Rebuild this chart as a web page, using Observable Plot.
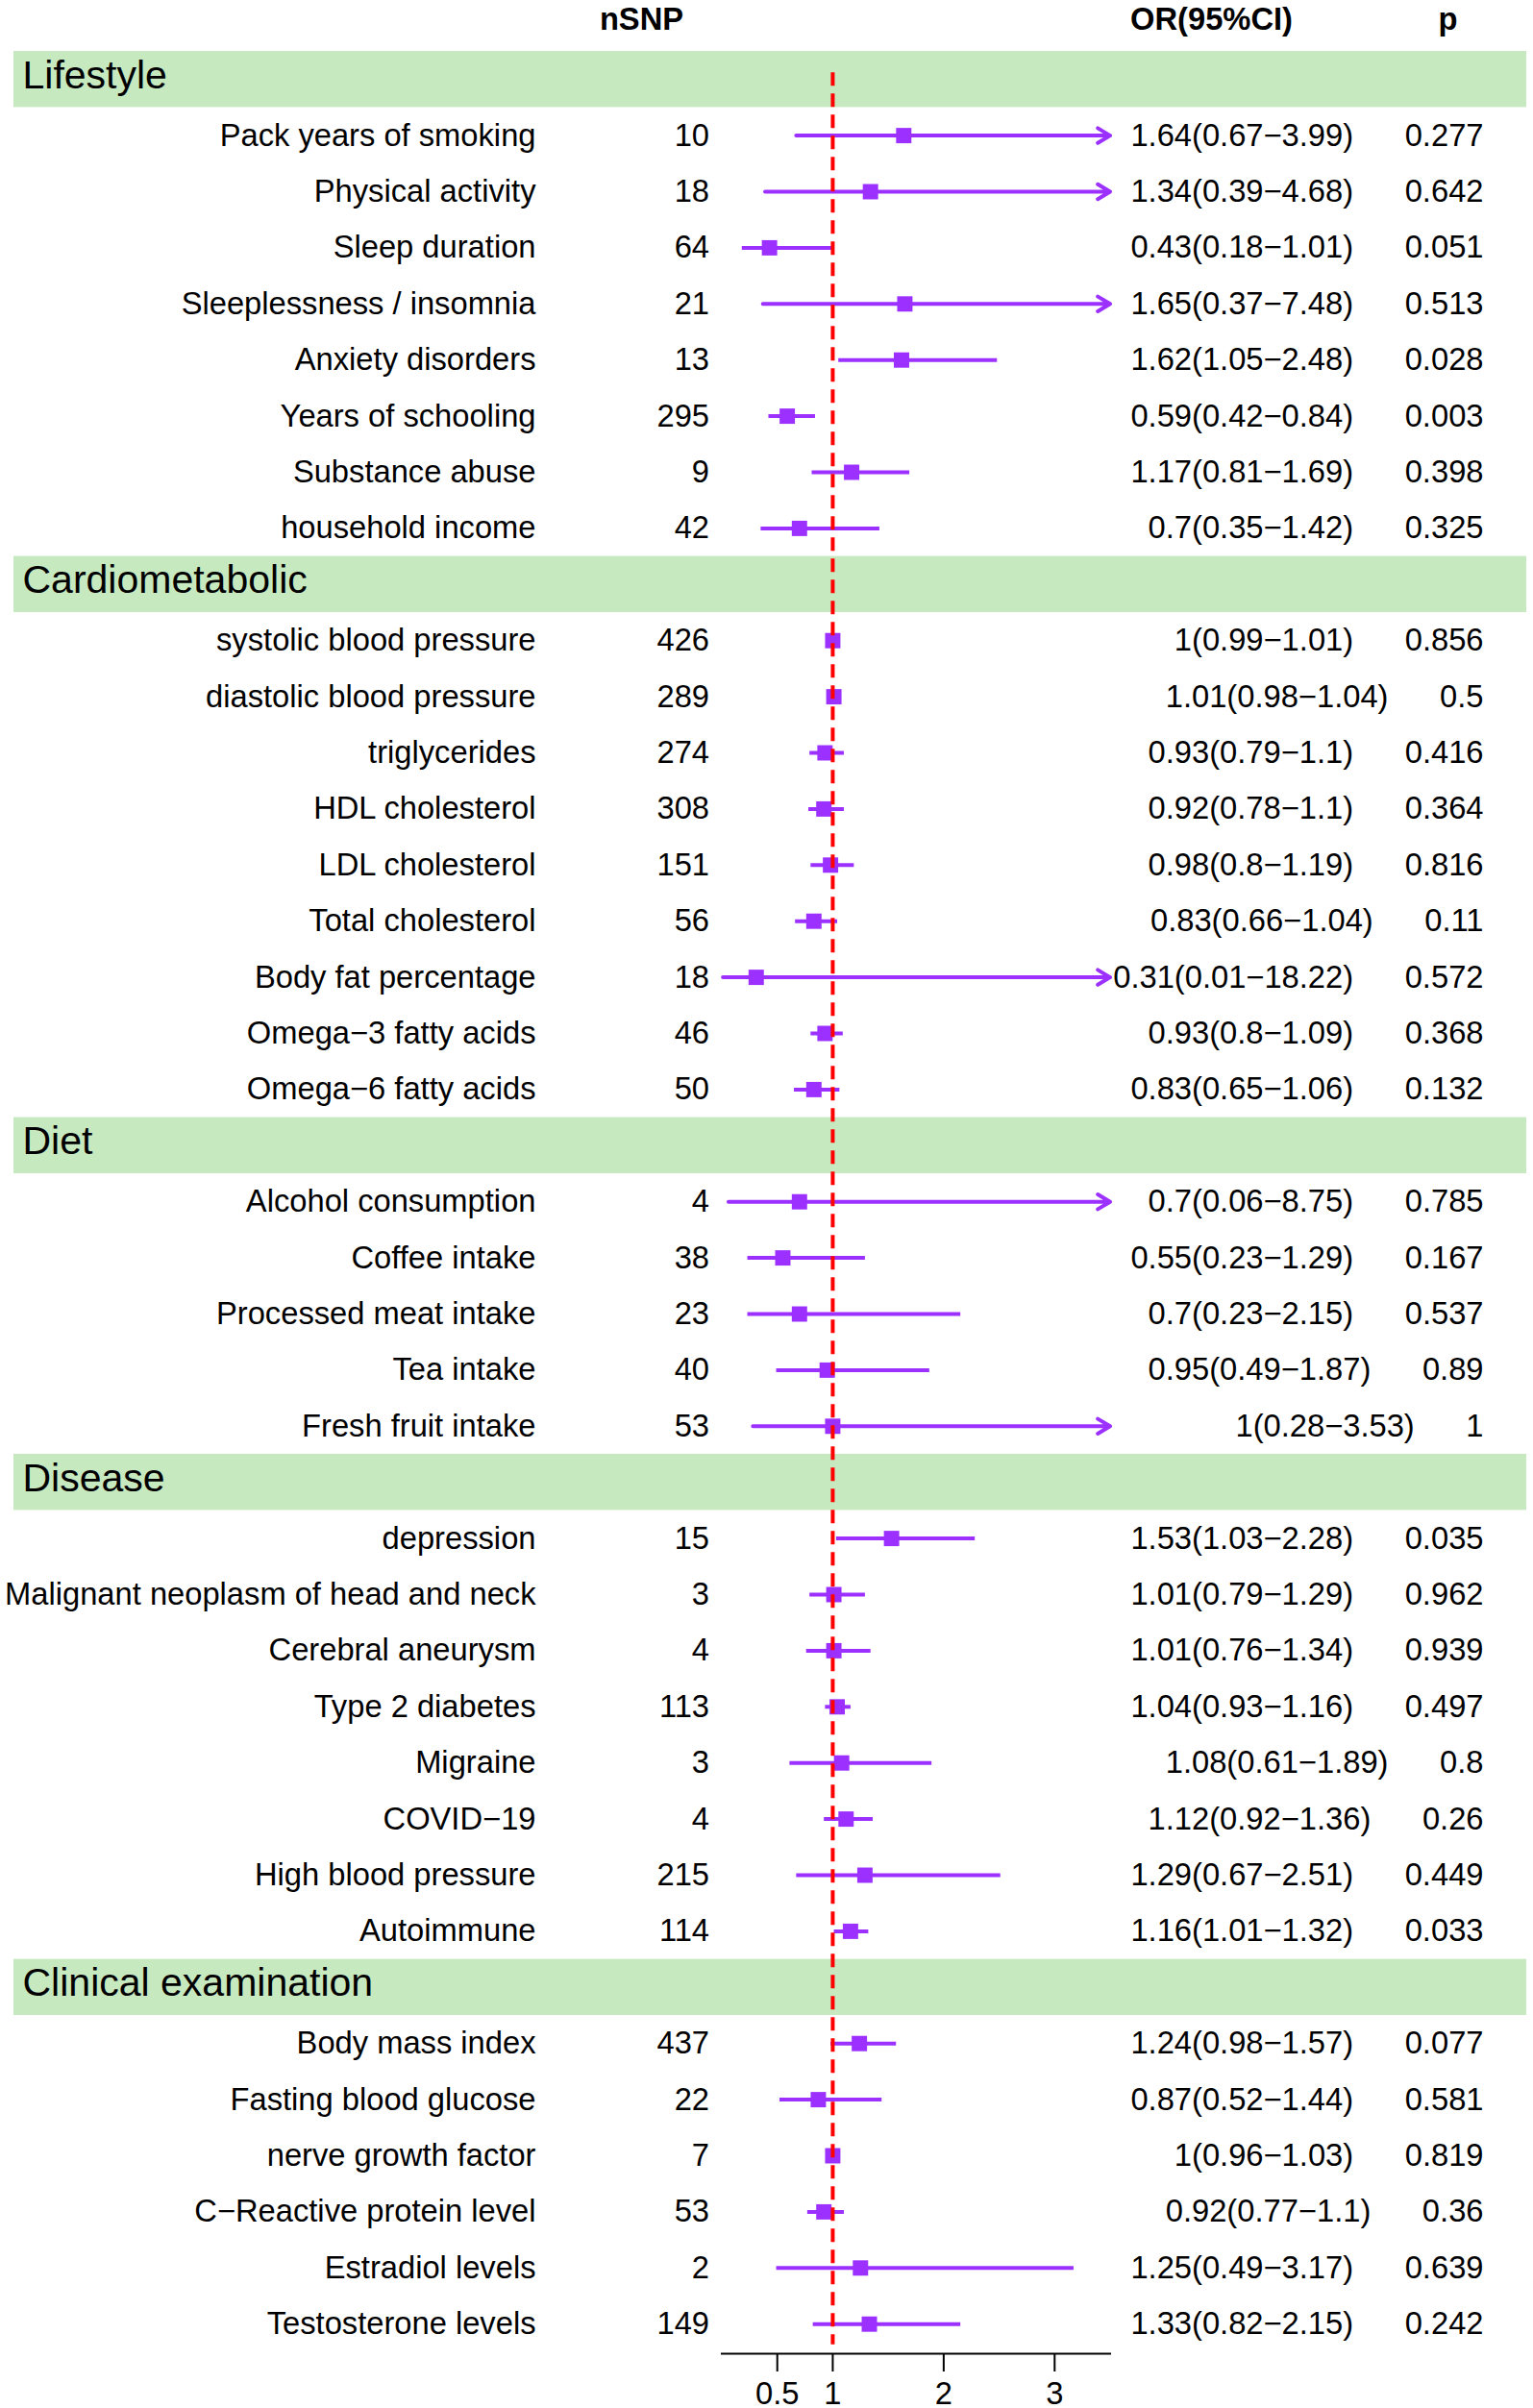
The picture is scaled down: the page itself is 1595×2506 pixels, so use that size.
<!DOCTYPE html>
<html>
<head>
<meta charset="utf-8">
<script src="https://cdn.jsdelivr.net/npm/d3@7"></script>
<script src="https://cdn.jsdelivr.net/npm/@observablehq/plot@0.6"></script>
<style>
  html, body { margin: 0; padding: 0; background: #ffffff; }
  svg { display: block; }
</style>
</head>
<body>
<div id="chart"></div>
<script>
// ---------------- data ----------------
const groups = ["Lifestyle", "Cardiometabolic", "Diet", "Disease", "Clinical examination"];
const groupSizes = [8, 9, 5, 8, 6];

const labels = [
  "Pack years of smoking", "Physical activity", "Sleep duration", "Sleeplessness / insomnia",
  "Anxiety disorders", "Years of schooling", "Substance abuse", "household income",
  "systolic blood pressure", "diastolic blood pressure", "triglycerides", "HDL cholesterol",
  "LDL cholesterol", "Total cholesterol", "Body fat percentage", "Omega\u22123 fatty acids", "Omega\u22126 fatty acids",
  "Alcohol consumption", "Coffee intake", "Processed meat intake", "Tea intake", "Fresh fruit intake",
  "depression", "Malignant neoplasm of head and neck", "Cerebral aneurysm", "Type 2 diabetes",
  "Migraine", "COVID\u221219", "High blood pressure", "Autoimmune",
  "Body mass index", "Fasting blood glucose", "nerve growth factor", "C\u2212Reactive protein level",
  "Estradiol levels", "Testosterone levels"
];
const nsnp = [10, 18, 64, 21, 13, 295, 9, 42,
  426, 289, 274, 308, 151, 56, 18, 46, 50,
  4, 38, 23, 40, 53,
  15, 3, 4, 113, 3, 4, 215, 114,
  437, 22, 7, 53, 2, 149];
const orValues = [1.64, 1.34, 0.43, 1.65, 1.62, 0.59, 1.17, 0.7,
  1, 1.01, 0.93, 0.92, 0.98, 0.83, 0.31, 0.93, 0.83,
  0.7, 0.55, 0.7, 0.95, 1,
  1.53, 1.01, 1.01, 1.04, 1.08, 1.12, 1.29, 1.16,
  1.24, 0.87, 1, 0.92, 1.25, 1.33];
const lower = [0.67, 0.39, 0.18, 0.37, 1.05, 0.42, 0.81, 0.35,
  0.99, 0.98, 0.79, 0.78, 0.8, 0.66, 0.01, 0.8, 0.65,
  0.06, 0.23, 0.23, 0.49, 0.28,
  1.03, 0.79, 0.76, 0.93, 0.61, 0.92, 0.67, 1.01,
  0.98, 0.52, 0.96, 0.77, 0.49, 0.82];
const upper = [3.99, 4.68, 1.01, 7.48, 2.48, 0.84, 1.69, 1.42,
  1.01, 1.04, 1.1, 1.1, 1.19, 1.04, 18.22, 1.09, 1.06,
  8.75, 1.29, 2.15, 1.87, 3.53,
  2.28, 1.29, 1.34, 1.16, 1.89, 1.36, 2.51, 1.32,
  1.57, 1.44, 1.03, 1.1, 3.17, 2.15];
const pValues = [0.277, 0.642, 0.051, 0.513, 0.028, 0.003, 0.398, 0.325,
  0.856, 0.5, 0.416, 0.364, 0.816, 0.11, 0.572, 0.368, 0.132,
  0.785, 0.167, 0.537, 0.89, 1,
  0.035, 0.962, 0.939, 0.497, 0.8, 0.26, 0.449, 0.033,
  0.077, 0.581, 0.819, 0.36, 0.639, 0.242];
const xTicks = [0.5, 1, 2, 3];
const xDomain = [0, 3.5];
const headers = ["nSNP", "OR(95%CI)", "p"];

// ---------------- layout table ----------------
const bands = [];
const rows = [];
let slot = 1, idx = 0;
groups.forEach((g, gi) => {
  bands.push({group: g, slot: slot++});
  for (let k = 0; k < groupSizes[gi]; k++, idx++) {
    rows.push({
      label: labels[idx], nsnp: nsnp[idx], or: orValues[idx],
      lo: lower[idx], hi: upper[idx], p: pValues[idx], slot: slot++
    });
  }
});
const lastSlot = slot - 1;
const xMax = xDomain[1];
const spacer = "\u2002\u2002\u00a0\u00a0\u200a";
const orText = d => `${d.or}(${d.lo}\u2212${d.hi})` + spacer + `${d.p}`;

const purple = "#9b30ff";
const font = "'Liberation Sans', Arial, Helvetica, sans-serif";
const fs = 32.7;

const chart = Plot.plot({
  width: 1595,
  height: 2506,
  marginLeft: 750.5,
  marginRight: 440.5,
  marginTop: 0,
  marginBottom: 57,
  style: {fontFamily: font, background: "#ffffff", color: "#000000", overflow: "visible"},
  x: {domain: xDomain},
  y: {domain: [0, lastSlot], range: [23.8, 2418.2], axis: null},
  marks: [
    // section bands
    Plot.rect(bands, {
      y1: d => d.slot - 0.5, y2: d => d.slot + 0.5,
      fill: "#c7e9c0", insetLeft: -736.5, insetRight: -433.5
    }),
    Plot.text(bands, {
      y: "slot", text: "group", frameAnchor: "left", dx: -727.5, dy: -4,
      textAnchor: "start", fontSize: 41, fill: "#000"
    }),
    // headers
    Plot.text([headers[0]], {y: () => 0, text: d => d, frameAnchor: "left", dx: -83.5, textAnchor: "middle", fontSize: fs, fontWeight: "bold", dy: -4}),
    Plot.text([headers[1]], {y: () => 0, text: d => d, frameAnchor: "right", dx: 105.5, textAnchor: "middle", fontSize: fs, fontWeight: "bold", dy: -4}),
    Plot.text([headers[2]], {y: () => 0, text: d => d, frameAnchor: "right", dx: 351.5, textAnchor: "middle", fontSize: fs, fontWeight: "bold", dy: -4}),
    // row labels and numbers
    Plot.text(rows, {y: "slot", text: "label", frameAnchor: "left", dx: -193.5, textAnchor: "end", fontSize: fs}),
    Plot.text(rows, {y: "slot", text: d => String(d.nsnp), frameAnchor: "left", dx: -13, textAnchor: "end", fontSize: fs}),
    Plot.text(rows, {y: "slot", text: orText, frameAnchor: "right", dx: 388.5, textAnchor: "end", fontSize: fs}),
    // confidence intervals
    Plot.link(rows.filter(d => d.hi <= xMax), {
      x1: "lo", x2: "hi", y1: "slot", y2: "slot", stroke: purple, strokeWidth: 4
    }),
    Plot.arrow(rows.filter(d => d.hi > xMax), {
      x1: "lo", x2: d => Math.min(d.hi, xMax), y1: "slot", y2: "slot",
      stroke: purple, strokeWidth: 4, headLength: 5.6, headAngle: 62,
      strokeLinecap: "round", strokeLinejoin: "round"
    }),
    Plot.dot(rows, {x: "or", y: "slot", symbol: "square", r: 9, fill: purple, stroke: "none"}),
    // reference line
    Plot.ruleX([1], {y1: 0.88, y2: lastSlot + 0.37, stroke: "#ff0000", strokeWidth: 4, strokeDasharray: "14,8"}),
    // axis
    Plot.frame({anchor: "bottom", stroke: "#000", strokeWidth: 2}),
    Plot.axisX({
      ticks: xTicks, tickFormat: d => `${d}`, tickSize: 19, tickPadding: 10,
      fontSize: fs, strokeWidth: 2, label: null, anchor: "bottom", fill: "#000"
    })
  ]
});
document.getElementById("chart").appendChild(chart);
</script>
</body>
</html>
